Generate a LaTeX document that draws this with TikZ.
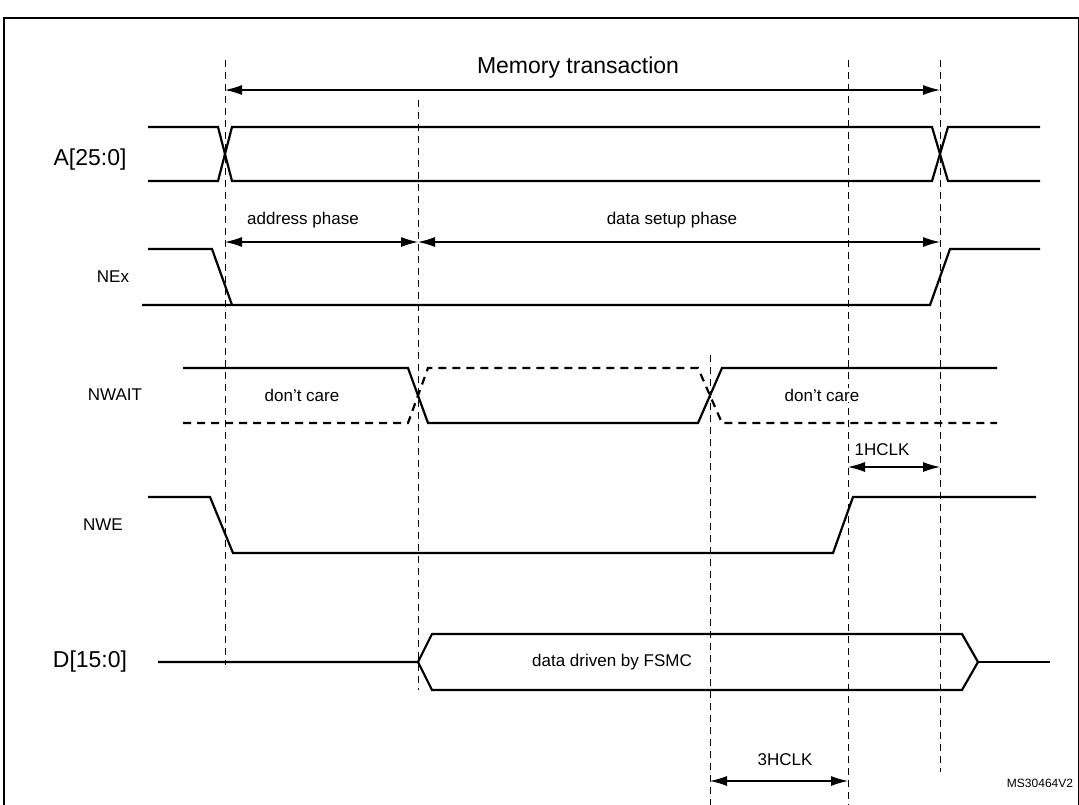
\documentclass[tikz,border=0pt]{standalone}
\usepackage{fontspec}
\setmainfont{Liberation Sans}
\usetikzlibrary{arrows.meta}
\begin{document}
\begin{tikzpicture}[x=1pt,y=-1pt,
  sig/.style={line width=2.2pt},
  dsig/.style={line width=2.2pt,dash pattern=on 8pt off 6pt},
  guide/.style={line width=1pt,dash pattern=on 7pt off 5pt},
  dim/.style={line width=1.1pt,{Latex[length=17pt,width=10pt]}-{Latex[length=17pt,width=10pt]}},
  big/.style={font=\fontsize{23}{26}\selectfont},
  sm/.style={font=\fontsize{17}{19}\selectfont}]
\useasboundingbox (0,0) rectangle (1079,804);
\draw[line width=1.3pt] (4,18) rectangle (1079,810);
% guides
\draw[guide] (225,60) -- (225,665);
\draw[guide] (418,100) -- (418,690);
\draw[guide] (710,355) -- (710,812);
\draw[guide] (848,60) -- (848,812);
\draw[guide] (940,60) -- (940,772);
% dimension arrows
\coordinate (m1) at (225,90); \coordinate (m2) at (940,90);
\draw[dim] (m1) -- (m2);
\node[big] (mt) at (578,68) {Memory transaction};
\coordinate (a1) at (225,242); \coordinate (a2) at (418,242); \coordinate (a3) at (940,242);
\draw[dim] (a1) -- (a2);
\draw[dim] (a2) -- (a3);
\node[sm] (ap) at (303,220) {address phase};
\node[sm] (dp) at (672,220) {data setup phase};
\coordinate (h1) at (848,467); \coordinate (h2) at (940,467);
\draw[dim] (h1) -- (h2);
\node[sm] (h1l) at (882,450) {1HCLK};
\coordinate (t1) at (710,781); \coordinate (t2) at (848,781);
\draw[dim] (t1) -- (t2);
\node[sm] (t3l) at (785,760) {3HCLK};
% A
\node[big] (la) at (90,160) {A[25:0]};
\draw[sig] (148,127) -- (218,127) -- (232,181) -- (932,181) -- (948,127) -- (1040,127);
\draw[sig] (148,181) -- (218,181) -- (232,127) -- (932,127) -- (948,181) -- (1040,181);
% NEx
\node[sm] (lne) at (113,277) {NEx};
\draw[sig] (148,249) -- (212,249) -- (232,305);
\draw[sig] (142,305) -- (930,305) -- (950,249) -- (1040,249);
% NWAIT
\node[sm] (lnw) at (115,395) {NWAIT};
\draw[sig] (183,368) -- (408,368) -- (428,423) -- (698,423) -- (722,368) -- (997,368);
\draw[dsig] (183,423) -- (408,423) -- (428,368) -- (698,368) -- (722,423) -- (997,423);
\node[sm,fill=white,inner sep=1pt] (dc1) at (302,395) {don’t care};
\node[sm,fill=white,inner sep=1pt] (dc2) at (822,395) {don’t care};
% NWE
\node[sm] (lwe) at (103,525) {NWE};
\draw[sig] (148,497) -- (210,497) -- (233,553) -- (833,553) -- (853,497) -- (1036,497);
% D
\node[big] (ld) at (90,662) {D[15:0]};
\draw[sig] (158,662) -- (418,662) -- (432,634) -- (962,634) -- (978,662) -- (962,690) -- (432,690) -- (418,662);
\draw[sig] (978,662) -- (1050,662);
\node[sm] (dd) at (612,662) {data driven by FSMC};
\node[font=\fontsize{12}{14}\selectfont] (ms) at (1040,783) {MS30464V2};
\end{tikzpicture}
\end{document}
